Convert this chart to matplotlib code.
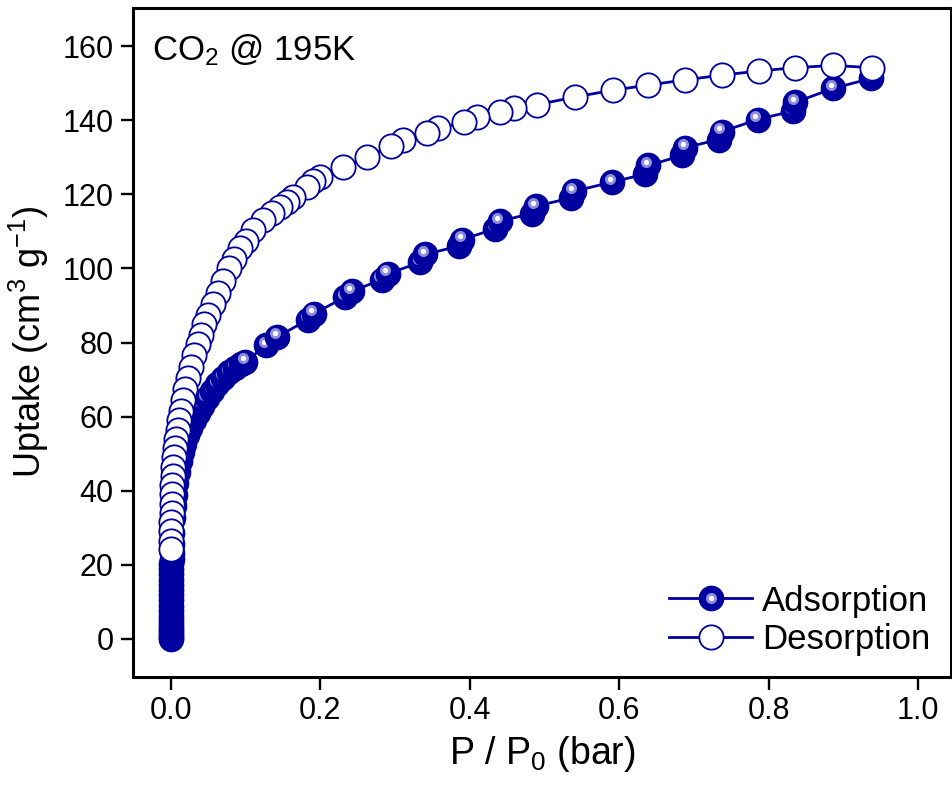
import matplotlib
matplotlib.use("Agg")
import matplotlib.pyplot as plt
from matplotlib.lines import Line2D
from matplotlib.legend_handler import HandlerTuple
from matplotlib.transforms import ScaledTranslation

plt.rcParams['font.family'] = ['Liberation Sans', 'DejaVu Sans']
plt.rcParams['mathtext.fontset'] = 'custom'
plt.rcParams['mathtext.rm'] = 'Liberation Sans'
plt.rcParams['mathtext.it'] = 'Liberation Sans:italic'
plt.rcParams['mathtext.bf'] = 'Liberation Sans:bold'

# ---- data ----
ads_p = [0.0001, 0.0001, 0.0002, 0.0002, 0.0003, 0.0003, 0.0004, 0.0004, 0.0005, 0.0005,
         0.0006, 0.0006, 0.0007, 0.0007, 0.0008, 0.0008, 0.0009, 0.0009, 0.0010, 0.0012,
         0.0015, 0.002, 0.003, 0.004, 0.005, 0.007, 0.009, 0.012, 0.015, 0.018,
         0.022, 0.026, 0.031, 0.036, 0.042, 0.048, 0.055, 0.062, 0.070, 0.078,
         0.086, 0.094, 0.099, 0.128, 0.142, 0.184, 0.191, 0.233, 0.242, 0.282,
         0.290, 0.334, 0.340, 0.385, 0.390, 0.434, 0.440, 0.483, 0.488, 0.535,
         0.539, 0.590, 0.635, 0.639, 0.684, 0.688, 0.733, 0.737, 0.785, 0.832,
         0.835, 0.886, 0.937]
ads_v = [0.0, 0.6, 1.3, 2.0, 3.0, 4.0, 5.0, 6.3, 7.6, 9.0,
         10.4, 11.8, 13.2, 14.6, 16.0, 17.4, 18.8, 20.2, 21.6, 23.2,
         25.5, 28.5, 32.5, 36.0, 38.8, 42.0, 45.0, 48.0, 50.5, 52.5,
         55.0, 57.0, 59.0, 61.0, 63.0, 65.0, 67.0, 68.8, 70.5, 72.0,
         73.2, 74.2, 74.8, 79.2, 81.5, 86.2, 87.8, 92.2, 93.8, 97.0,
         98.5, 101.7, 103.8, 106.0, 107.8, 110.7, 112.8, 114.8, 116.8, 119.0,
         120.8, 123.3, 125.5, 127.8, 130.5, 132.6, 134.8, 136.9, 140.2, 142.5,
         144.8, 148.6, 151.3]

des_p = [0.938, 0.886, 0.835, 0.787, 0.738, 0.688, 0.639, 0.591, 0.541, 0.490,
         0.459, 0.441, 0.410, 0.392, 0.358, 0.343, 0.311, 0.294, 0.262, 0.231,
         0.200, 0.190, 0.182, 0.164, 0.155, 0.146, 0.135, 0.124, 0.110, 0.100,
         0.093, 0.085, 0.078, 0.070, 0.063, 0.056, 0.050, 0.045, 0.040, 0.036,
         0.031, 0.027, 0.023, 0.019, 0.016, 0.013, 0.011, 0.009, 0.007, 0.0055,
         0.0045, 0.0035, 0.0028, 0.0022, 0.0017, 0.0013, 0.0010, 0.0008, 0.0006, 0.0004,
         0.0003]
des_v = [154.2, 154.8, 154.2, 153.3, 152.2, 150.9, 149.5, 148.1, 146.3, 144.2,
         143.2, 142.2, 140.9, 139.5, 137.8, 136.5, 134.6, 133.0, 130.1, 127.4,
         124.7, 123.5, 122.0, 119.3, 118.0, 116.6, 115.0, 113.0, 110.3, 107.5,
         105.5, 102.5, 100.0, 96.5, 93.5, 90.5, 87.5, 85.0, 82.0, 79.5,
         76.5, 73.5, 70.5, 67.5, 64.5, 61.5, 59.0, 56.5, 54.0, 51.5,
         49.0, 46.5, 44.0, 41.5, 39.0, 36.5, 34.0, 31.5, 29.0, 26.5,
         24.2]

x_ticks = [0.0, 0.2, 0.4, 0.6, 0.8, 1.0]
y_ticks = [0, 20, 40, 60, 80, 100, 120, 140, 160]

blue = '#00009F'
halo = '#8C8CDC'
MS = 17.5
HS1, HS2 = 8.0, 3.8

fig = plt.figure(figsize=(9.53, 7.87), dpi=100)
ax = fig.add_axes([0.1396, 0.1402, 0.8584, 0.8496])

# adsorption: connecting line then "shaded sphere" markers
ax.plot(ads_p, ads_v, '-', color=blue, lw=2.0, zorder=2)
off1 = ScaledTranslation(-0.022, 0.035, fig.dpi_scale_trans)
for i, (px, py) in enumerate(zip(ads_p, ads_v)):
    z = 3 + i * 0.01
    ax.plot([px], [py], 'o', ms=MS, color=blue, mec=blue, mew=1, zorder=z)
    ax.plot([px], [py], 'o', ms=HS1, color=halo, mec='none', zorder=z + 0.002,
            transform=ax.transData + off1)
    ax.plot([px], [py], 'o', ms=HS2, color='white', mec='none', zorder=z + 0.004,
            transform=ax.transData + off1)

# desorption
ax.plot(des_p, des_v, '-', color=blue, lw=2.0, zorder=5)
ax.plot(des_p, des_v, 'o', ms=MS, mfc='white', mec=blue, mew=1.3, ls='none', zorder=6)

ax.set_xlim(-0.0505, 1.044)
ax.set_ylim(-10.2, 170.3)
ax.set_xticks(x_ticks)
ax.set_xticklabels([f'{t:.1f}' for t in x_ticks])
ax.set_yticks(y_ticks)
ax.tick_params(axis='both', which='major', direction='out', length=9, width=1.7,
               labelsize=22, pad=5, top=False, right=False)
for s in ax.spines.values():
    s.set_linewidth(2.2)

ax.set_xlabel('P / P$_{0}$ (bar)', fontsize=27, labelpad=6)
ax.set_ylabel('Uptake (cm$^{3}$ g$^{-1}$)', fontsize=26, labelpad=8)

ax.text(0.023, 0.922, 'CO$_{2}$ @ 195K', transform=ax.transAxes, fontsize=25,
        ha='left', va='baseline', zorder=10)

# legend
h_ads = Line2D([], [], color=blue, lw=2.0, marker='o', ms=MS, mfc=blue, mec=blue)
h_hl1 = Line2D([], [], ls='none', marker='o', ms=HS1, mfc=halo, mec='none')
h_hl2 = Line2D([], [], ls='none', marker='o', ms=HS2, mfc='white', mec='none')
h_des = Line2D([], [], color=blue, lw=2.0, marker='o', ms=MS, mfc='white', mec=blue, mew=1.3)
leg = ax.legend([(h_ads, h_hl1, h_hl2), h_des], ['Adsorption', 'Desorption'],
                handler_map={tuple: HandlerTuple(ndivide=1, pad=0)},
                loc='lower right', frameon=False, fontsize=25,
                handlelength=2.4, handletextpad=0.28, labelspacing=0.15,
                borderaxespad=0.2, bbox_to_anchor=(1.0, 0.0))

fig.savefig('out.png', dpi=100)
